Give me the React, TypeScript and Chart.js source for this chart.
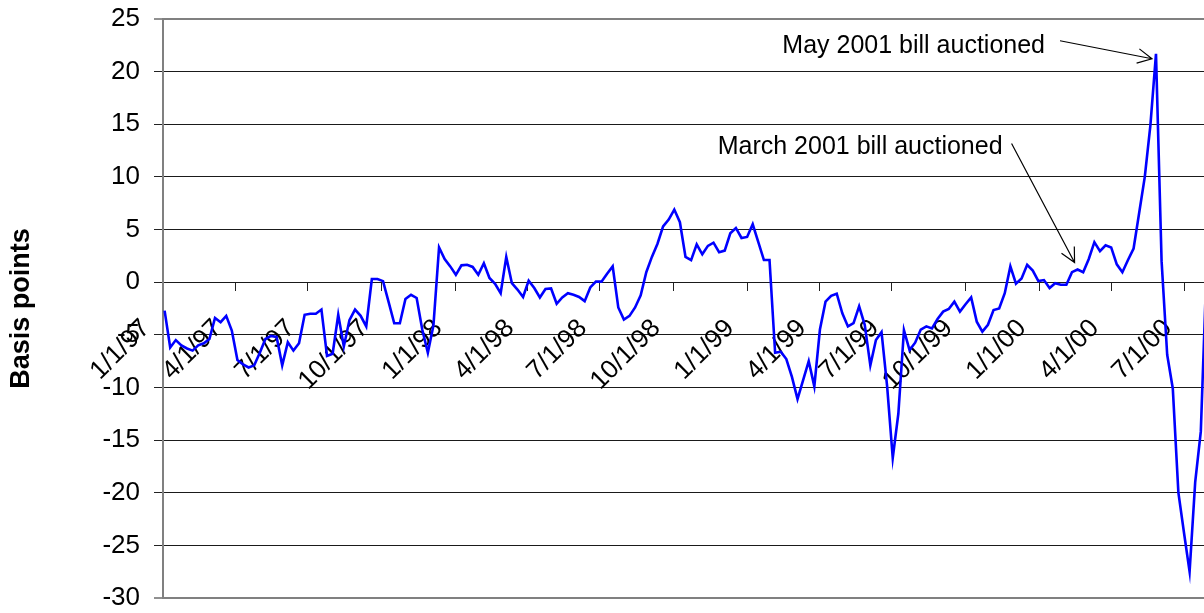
import React, { useEffect, useRef } from 'react';
import { Chart, registerables } from 'chart.js';

Chart.register(...registerables);

// ---- data ----
const AXIS_START = '1/1/97';
const AXIS_END = '7/25/00';
const FIRST_WEEK = '1/3/97';
const WEEK_DAYS = 7;

const TICK_LABELS = [
  '1/1/97', '4/1/97', '7/1/97', '10/1/97',
  '1/1/98', '4/1/98', '7/1/98', '10/1/98',
  '1/1/99', '4/1/99', '7/1/99', '10/1/99',
  '1/1/00', '4/1/00', '7/1/00',
];

const Y_MIN = -30;
const Y_MAX = 25;
const Y_STEP = 5;

// weekly spread, basis points
const SPREAD_1997 = [
  -2.7, -6.2, -5.5, -6.0, -6.3, -6.5, -6.0, -5.8, -5.4, -3.4, -3.8, -3.2, -4.6,
  -7.4, -7.8, -8.1, -7.9, -6.7, -5.4, -5.1, -5.2, -7.9, -5.7, -6.5, -5.8, -3.1,
  -3.0, -3.0, -2.6, -7.0, -6.8, -3.1, -6.1, -3.6, -2.6, -3.2, -4.2, 0.3, 0.3,
  0.1, -1.9, -3.9, -3.9, -1.6, -1.2, -1.5, -4.5, -6.7, -4.1,
];
const SPREAD_1998 = [
  3.3, 2.2, 1.5, 0.7, 1.6, 1.65, 1.45, 0.7, 1.8, 0.4, -0.15, -1.05, 2.4,
  -0.1, -0.7, -1.4, 0.15, -0.55, -1.45, -0.65, -0.6, -2.05, -1.45, -1.05, -1.2, -1.4,
  -1.8, -0.5, 0.05, 0.05, 0.8, 1.5, -2.4, -3.55, -3.2, -2.4, -1.25, 0.95, 2.4,
  3.65, 5.3, 5.95, 6.9, 5.7, 2.4, 2.1, 3.6, 2.65, 3.45, 3.75, 2.85, 3.0,
];
const SPREAD_1999 = [
  4.65, 5.15, 4.2, 4.3, 5.5, 3.8, 2.1, 2.1, -6.7, -6.6, -7.3, -9.0, -11.1,
  -9.3, -7.5, -9.9, -4.5, -1.85, -1.3, -1.1, -2.95, -4.2, -3.9, -2.3, -4.05, -7.9,
  -5.5, -4.75, -9.9, -16.7, -12.5, -4.55, -6.45, -5.75, -4.5, -4.2, -4.4, -3.5, -2.8,
  -2.55, -1.85, -2.8, -2.1, -1.45, -3.75, -4.7, -4.05, -2.65, -2.5, -1.05, 1.5, -0.15,
];
const SPREAD_2000 = [
  0.35, 1.65, 1.1, 0.1, 0.2, -0.55, -0.1, -0.25, -0.25, 0.95, 1.2, 0.95, 2.2,
  3.8, 2.95, 3.5, 3.3, 1.7, 0.95, 2.1, 3.2, 6.6, 10.0, 14.9, 21.7, 2.0,
  -6.9, -10.1, -20.0, -23.8, -27.5, -19.0, -14.2, 1.0,
];
const SPREAD = [...SPREAD_1997, ...SPREAD_1998, ...SPREAD_1999, ...SPREAD_2000];

const NOTES = [
  { text: 'May 2001 bill auctioned', week: 177 },
  { text: 'March 2001 bill auctioned', week: 163 },
];

// ---- helpers ----
function parseDate(s: string): number {
  const [m, d, y] = s.split('/').map(Number);
  return Date.UTC(y < 50 ? 2000 + y : 1900 + y, m - 1, d);
}
function dayOf(s: string): number {
  return Math.round((parseDate(s) - parseDate(AXIS_START)) / 86400000);
}

const FONT_FAMILY = '"Liberation Sans", Arial, Helvetica, sans-serif';
const FONT_SIZE = 26;
const NOTE_FONT_SIZE = 25;

// layout of annotation text and arrows relative to their data point
const NOTE_LAYOUT = [
  { textDx: -111, textDy: -8, fromDx: -96, fromDy: -13, toDx: -4, toDy: 5 },
  { textDx: -75, textDy: -122, fromDx: -66, fromDy: -126, toDx: -3, toDy: -7 },
];

function drawArrow(ctx: CanvasRenderingContext2D, x1: number, y1: number, x2: number, y2: number) {
  const ang = Math.atan2(y2 - y1, x2 - x1);
  const head = 16;
  const spread = 0.47;
  ctx.beginPath();
  ctx.moveTo(x1, y1);
  ctx.lineTo(x2, y2);
  ctx.moveTo(x2 - head * Math.cos(ang - spread), y2 - head * Math.sin(ang - spread));
  ctx.lineTo(x2, y2);
  ctx.lineTo(x2 - head * Math.cos(ang + spread), y2 - head * Math.sin(ang + spread));
  ctx.stroke();
}

const notesPlugin = {
  id: 'notes',
  afterDatasetsDraw(chart: any) {
    const meta = chart.getDatasetMeta(0);
    const ctx: CanvasRenderingContext2D = chart.ctx;
    ctx.save();
    ctx.font = `${NOTE_FONT_SIZE}px ${FONT_FAMILY}`;
    ctx.fillStyle = '#000';
    ctx.strokeStyle = '#000';
    ctx.lineWidth = 1.2;
    ctx.textAlign = 'right';
    ctx.textBaseline = 'middle';
    NOTES.forEach((n, k) => {
      const p = meta.data[n.week];
      if (!p) return;
      const L = NOTE_LAYOUT[k];
      ctx.fillText(n.text, p.x + L.textDx, p.y + L.textDy);
      drawArrow(ctx, p.x + L.fromDx, p.y + L.fromDy, p.x + L.toDx, p.y + L.toDy);
    });
    ctx.restore();
  },
};

export default function App() {
  const ref = useRef<HTMLCanvasElement | null>(null);

  useEffect(() => {
    if (!ref.current) return;
    const firstDay = dayOf(FIRST_WEEK);
    const points = SPREAD.map((v, i) => ({ x: firstDay + WEEK_DAYS * i, y: v }));
    const tickDays = TICK_LABELS.map(dayOf);

    const chart = new Chart(ref.current, {
      type: 'line',
      data: {
        datasets: [
          {
            data: points,
            borderColor: '#0000FF',
            borderWidth: 2.6,
            pointRadius: 0,
            tension: 0,
            fill: false,
          },
        ],
      },
      options: {
        animation: false,
        responsive: false,
        layout: { padding: { top: 19, bottom: 15, left: 0, right: 0 } },
        plugins: {
          legend: { display: false },
          tooltip: { enabled: false },
        },
        scales: {
          x: {
            type: 'linear',
            min: 0,
            max: dayOf(AXIS_END),
            position: { y: 0 } as any,
            afterBuildTicks: (s: any) => {
              s.ticks = tickDays.map((d) => ({ value: d }));
            },
            afterFit: (s: any) => {
              s.paddingLeft = 0;
              s.paddingRight = 0;
              s.paddingTop = 0;
              s.paddingBottom = 0;
            },
            ticks: {
              autoSkip: false,
              minRotation: 45,
              maxRotation: 45,
              labelOffset: -17,
              padding: 22,
              color: '#000',
              font: { family: FONT_FAMILY, size: FONT_SIZE },
              callback: (v: any) => {
                const k = tickDays.indexOf(Number(v));
                return k >= 0 ? TICK_LABELS[k] : '';
              },
            },
            grid: {
              drawOnChartArea: false,
              drawTicks: true,
              tickLength: 9,
              tickColor: '#222',
              tickWidth: 1,
            },
            border: { display: false },
          },
          y: {
            min: Y_MIN,
            max: Y_MAX,
            afterFit: (s: any) => {
              s.width = 163;
              s.paddingTop = 0;
              s.paddingBottom = 0;
            },
            ticks: {
              stepSize: Y_STEP,
              padding: 14,
              color: '#000',
              font: { family: FONT_FAMILY, size: FONT_SIZE, lineHeight: 1 },
            },
            grid: {
              color: (c: any) =>
                c.tick && (c.tick.value === Y_MAX || c.tick.value === Y_MIN) ? '#808080' : '#1a1a1a',
              lineWidth: (c: any) =>
                c.tick && (c.tick.value === Y_MAX || c.tick.value === Y_MIN) ? 2 : 1,
              tickLength: 9,
              tickColor: '#222',
              tickWidth: 1,
            },
            border: { display: true, color: '#808080', width: 2 },
            title: {
              display: true,
              text: 'Basis points',
              color: '#000',
              font: { family: FONT_FAMILY, size: 27, weight: 'bold' },
              padding: { top: 5, bottom: 0 },
            },
          },
        },
      },
      plugins: [notesPlugin],
    });
    return () => chart.destroy();
  }, []);

  return (
    <div
      style={{
        position: 'fixed',
        left: 0,
        top: 0,
        width: 1204,
        height: 613,
        background: '#fff',
        overflow: 'hidden',
      }}
    >
      <canvas ref={ref} width={1204} height={613} style={{ width: 1204, height: 613, display: 'block' }} />
    </div>
  );
}
